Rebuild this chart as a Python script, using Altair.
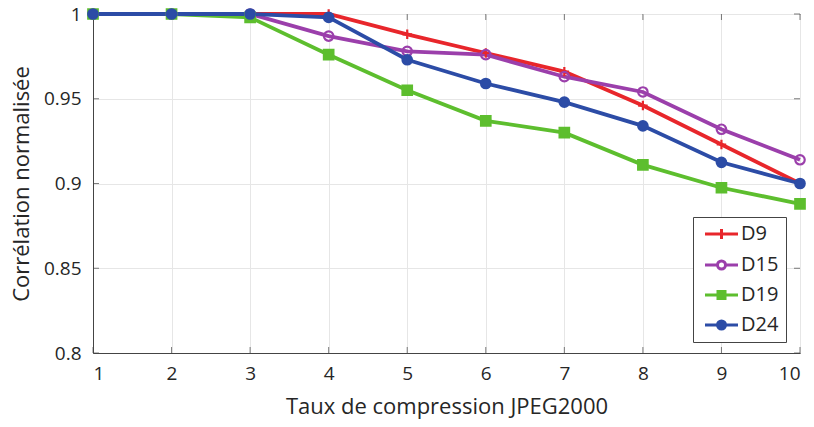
import altair as alt
import pandas as pd

x_vals = [1, 2, 3, 4, 5, 6, 7, 8, 9, 10]
y_ticks = [0.8, 0.85, 0.9, 0.95, 1.0]
d9 = [1.0, 1.0, 1.0, 1.0, 0.988, 0.977, 0.966, 0.946, 0.923, 0.900]
d15 = [1.0, 1.0, 1.0, 0.987, 0.978, 0.976, 0.963, 0.954, 0.932, 0.914]
d19 = [1.0, 1.0, 0.998, 0.976, 0.955, 0.937, 0.930, 0.911, 0.8975, 0.888]
d24 = [1.0, 1.0, 1.0, 0.998, 0.973, 0.959, 0.948, 0.934, 0.9125, 0.900]
series_names = ["D9", "D15", "D19", "D24"]
colors = ["#E8262B", "#9B3FAB", "#5DBE2E", "#2C4CA6"]
fills = ["#E8262B", "transparent", "#5DBE2E", "#2C4CA6"]

# marker shapes for the plot
plus_path = "M-1,0H1M0,-1V1"
shapes = [plus_path, "circle", "square", "circle"]
# legend symbols: line with marker in its middle
leg_shapes = [
    "M-1,0H5.6M2.3,-1V1",
    "M-1,0H1.5M3.1,0H5.6M1.5,0A0.8,0.8 0 1,1 3.1,0A0.8,0.8 0 1,1 1.5,0",
    "M-1,0H5.6M1.6,-0.7H3V0.7H1.6Z",
    "M-1,0H5.6M1.5,0A0.8,0.8 0 1,1 3.1,0A0.8,0.8 0 1,1 1.5,0Z",
]

rows = []
for name, vals in zip(series_names, [d9, d15, d19, d24]):
    for xv, yv in zip(x_vals, vals):
        rows.append({"x": xv, "y": yv, "s": name})
df = pd.DataFrame(rows)
xt = pd.DataFrame({"x": x_vals})
yt = pd.DataFrame({"y": y_ticks})

FONT = "Open Sans"
TXT = "#262626"
AX = "#444444"

xscale = alt.Scale(domain=[1, 10], nice=False)
yscale = alt.Scale(domain=[0.8, 1.0], nice=False, zero=False)

def cscale():
    return alt.Scale(domain=series_names, range=colors)

def fscale():
    return alt.Scale(domain=series_names, range=fills)

xenc = alt.X("x:Q", scale=xscale,
             axis=alt.Axis(title="Taux de compression JPEG2000", values=x_vals,
                           format="d", grid=True, ticks=False, labelPadding=11,
                           titlePadding=13))
yenc = alt.Y("y:Q", scale=yscale,
             axis=alt.Axis(title="Corrélation normalisée", values=y_ticks,
                           format="~g", grid=True, ticks=False, labelPadding=12,
                           titlePadding=10))

leg = alt.Legend(title=None, orient="none", legendX=600, legendY=203,
                 symbolSize=100, symbolStrokeWidth=3, labelFontSize=20,
                 labelFont=FONT, labelColor=TXT, symbolOpacity=1,
                 strokeColor=AX, fillColor="white",
                 padding=7, rowPadding=10, labelOffset=21,
                 cornerRadius=0)

lines = alt.Chart(df).mark_line(strokeWidth=3.8).encode(
    x=xenc, y=yenc,
    color=alt.Color("s:N", scale=cscale(), sort=series_names, legend=None)
)

points = alt.Chart(df).mark_point(filled=False, size=90, strokeWidth=2.2, opacity=1).encode(
    x=xenc, y=yenc,
    color=alt.Color("s:N", scale=cscale(), sort=series_names, legend=None),
    fill=alt.Fill("s:N", scale=fscale(), sort=series_names, legend=None),
    shape=alt.Shape("s:N", scale=alt.Scale(domain=series_names, range=shapes), legend=None),
)

legend_layer = alt.Chart(df).transform_filter("datum.x < 0").mark_point(
    filled=False, size=100, strokeWidth=3, opacity=1
).encode(
    color=alt.Color("s:N", scale=cscale(), sort=series_names, legend=leg),
    fill=alt.Fill("s:N", scale=fscale(), sort=series_names, legend=leg),
    shape=alt.Shape("s:N", scale=alt.Scale(domain=series_names, range=leg_shapes),
                    sort=series_names, legend=leg),
)

TS = 6
bot_ticks = alt.Chart(xt).mark_tick(orient="vertical", size=TS, thickness=1, color=AX, yOffset=-TS / 2).encode(
    x=alt.X("x:Q", scale=xscale), y=alt.Y(datum=0.8, scale=yscale))
top_ticks = alt.Chart(xt).mark_tick(orient="vertical", size=TS, thickness=1, color=AX, yOffset=TS / 2).encode(
    x=alt.X("x:Q", scale=xscale), y=alt.Y(datum=1.0, scale=yscale))
left_ticks = alt.Chart(yt).mark_tick(orient="horizontal", size=TS, thickness=1, color=AX, xOffset=TS / 2).encode(
    y=alt.Y("y:Q", scale=yscale), x=alt.X(datum=1, scale=xscale))
right_ticks = alt.Chart(yt).mark_tick(orient="horizontal", size=TS, thickness=1, color=AX, xOffset=-TS / 2).encode(
    y=alt.Y("y:Q", scale=yscale), x=alt.X(datum=10, scale=xscale))

chart = alt.layer(bot_ticks, top_ticks, left_ticks, right_ticks, lines, points, legend_layer).resolve_scale(
    shape="independent", color="independent", fill="independent"
).properties(
    width=707, height=339,
    padding={"left": 93, "top": 14, "right": 14, "bottom": 74},
    autosize=alt.AutoSizeParams(type="none"),
).configure_view(
    stroke=AX, strokeWidth=1
).configure_axis(
    labelFont=FONT, titleFont=FONT, labelFontSize=19, titleFontSize=22,
    labelColor=TXT, titleColor=TXT, titleFontWeight="normal",
    gridColor="#e6e6e6", domainColor=AX, domainWidth=1
)

chart.save("out.html", embed_options={"renderer": "svg", "actions": False})
